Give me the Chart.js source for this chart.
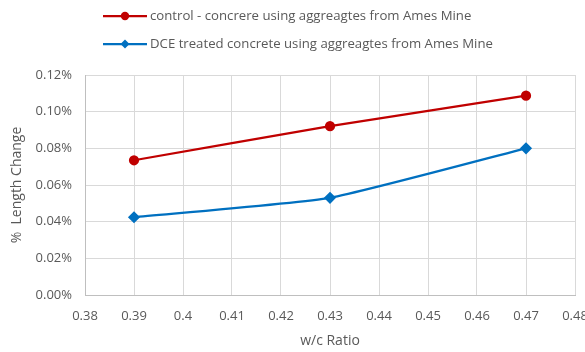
<!DOCTYPE html>
<html>
<head>
<meta charset="utf-8">
<script src="https://cdn.jsdelivr.net/npm/chart.js@4"></script>
<style>
  html, body { margin: 0; padding: 0; background: #fff; }
  #wrap { width: 585px; height: 352px; }
</style>
</head>
<body>
<div id="wrap"><canvas id="shrinkChart"></canvas></div>
<script>
// w/c ratios and % length change per mix
const wcRatios = [0.39, 0.43, 0.47];
const controlValues = [0.0735, 0.0921, 0.1087];
const dceValues = [0.0424, 0.0530, 0.0800];
const seriesLabels = [
    'control - concrere using aggreagtes from Ames Mine',
    'DCE treated concrete using aggreagtes from Ames Mine'
];

const ink = '#595959';
const fontFamily = '"Open Sans", "Liberation Sans", sans-serif';

// Stacked legend in the top-left, Excel style
const stackedLegend = {
    id: 'stackedLegend',
    afterDraw(chart) {
        const { ctx } = chart;
        ctx.save();
        chart.data.datasets.forEach((ds, i) => {
            const y = 16 + i * 28;
            ctx.strokeStyle = ds.borderColor;
            ctx.lineWidth = 2.25;
            ctx.beginPath();
            ctx.moveTo(103, y);
            ctx.lineTo(147, y);
            ctx.stroke();
            ctx.fillStyle = ds.borderColor;
            ctx.beginPath();
            if (ds.pointStyle === 'rectRot') {
                ctx.moveTo(125, y - 4.5); ctx.lineTo(129.5, y);
                ctx.lineTo(125, y + 4.5); ctx.lineTo(120.5, y);
                ctx.closePath();
            } else {
                ctx.arc(125, y, 4.2, 0, Math.PI * 2);
            }
            ctx.fill();
            ctx.fillStyle = ink;
            ctx.font = '13.2px ' + fontFamily;
            ctx.textBaseline = 'middle';
            ctx.fillText(ds.label, 150, y);
        });
        ctx.restore();
    }
};

new Chart(document.getElementById('shrinkChart'), {
    type: 'line',
    data: {
        datasets: [
            {
                label: seriesLabels[0],
                data: wcRatios.map((x, i) => ({ x, y: controlValues[i] })),
                borderColor: '#c00000',
                backgroundColor: '#c00000',
                borderWidth: 2.25,
                pointStyle: 'circle',
                pointRadius: 4,
                tension: 0.15
            },
            {
                label: seriesLabels[1],
                data: wcRatios.map((x, i) => ({ x, y: dceValues[i] })),
                borderColor: '#0070c0',
                backgroundColor: '#0070c0',
                borderWidth: 2.25,
                pointStyle: 'rectRot',
                pointRadius: 4.5,
                tension: 0.15
            }
        ]
    },
    options: {
        responsive: true,
        maintainAspectRatio: false,
        animation: false,
        layout: { padding: { top: 75, right: 10, left: 0, bottom: 0 } },
        plugins: { legend: { display: false }, tooltip: { enabled: false } },
        scales: {
            x: {
                type: 'linear',
                min: 0.38, max: 0.48,
                afterFit: s => { s.height = 57; s.paddingLeft = 0; s.paddingRight = 0; },
                ticks: {
                    stepSize: 0.01,
                    color: ink,
                    padding: 13,
                    font: { size: 13, family: fontFamily },
                    callback: v => String(parseFloat(v.toFixed(2)))
                },
                grid: { color: '#d9d9d9', drawTicks: false },
                border: { color: '#bfbfbf' },
                title: {
                    display: true, text: 'w/c Ratio', color: ink,
                    font: { size: 14, family: fontFamily }, padding: { top: 0, bottom: 3 }
                }
            },
            y: {
                min: 0, max: 0.12,
                afterFit: s => { s.width = 85; },
                ticks: {
                    stepSize: 0.02,
                    color: ink,
                    padding: 13,
                    font: { size: 13, family: fontFamily },
                    callback: v => v.toFixed(2) + '%'
                },
                grid: { color: '#d9d9d9', drawTicks: false },
                border: { color: '#bfbfbf' },
                title: {
                    display: true, text: '%  Length Change', color: ink,
                    font: { size: 14, family: fontFamily }, padding: { top: 9, bottom: 0 }
                }
            }
        }
    },
    plugins: [stackedLegend]
});
</script>
</body>
</html>
